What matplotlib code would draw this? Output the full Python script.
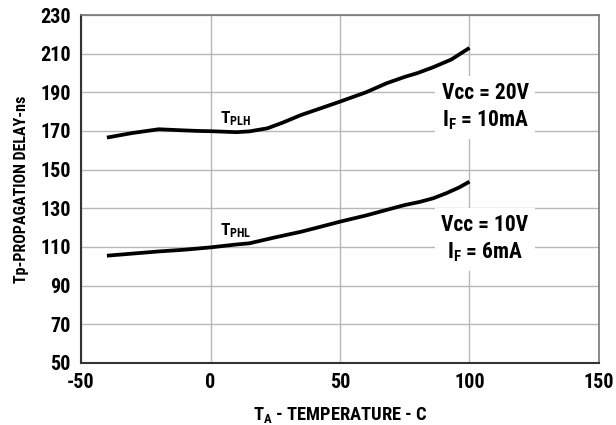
import matplotlib
matplotlib.use("Agg")
import matplotlib.pyplot as plt

# --- data ---
temp_plh = [-40, -30, -20, -10, -4, 0, 10, 15, 22, 28, 35, 42, 50, 60, 68, 75, 80, 86, 93, 100]
tplh     = [166.6, 169.0, 170.9, 170.3, 170.0, 169.9, 169.4, 169.8, 171.4, 174.4, 178.3, 181.5, 185.2, 190.0, 194.7, 198.0, 200.0, 203.0, 207.0, 213.0]

temp_phl = [-40, -30, -20, -10, 0, 10, 15, 25, 35, 42, 50, 60, 68, 75, 81, 86, 91, 96, 100]
tphl     = [105.5, 106.6, 107.7, 108.6, 109.8, 111.3, 111.9, 115.0, 117.9, 120.3, 123.1, 126.3, 129.2, 131.7, 133.4, 135.2, 137.8, 140.8, 143.8]

xticks = [-50, 0, 50, 100, 150]
yticks = list(range(50, 231, 20))

# --- font: condensed bold, close to the datasheet look ---
fam = "Roboto Condensed"
plt.rcParams["font.family"] = [fam, "DejaVu Sans"]
plt.rcParams["font.weight"] = "bold"
plt.rcParams["axes.unicode_minus"] = False
plt.rcParams["mathtext.fontset"] = "custom"
plt.rcParams["mathtext.rm"] = fam + ":bold"
plt.rcParams["mathtext.default"] = "rm"

fig = plt.figure(figsize=(6.16, 4.25), dpi=100)
ax = fig.add_axes([0.1315, 0.1459, 0.8409, 0.8188])

ax.plot(temp_plh, tplh, color="black", lw=2.7, solid_capstyle="butt", zorder=3)
ax.plot(temp_phl, tphl, color="black", lw=2.7, solid_capstyle="butt", zorder=3)

ax.set_xlim(-50, 150)
ax.set_ylim(50, 230)
ax.set_xticks(xticks)
ax.set_yticks(yticks)
ax.tick_params(length=0, labelsize=14.5, pad=7.5)
for lab in ax.get_xticklabels() + ax.get_yticklabels():
    lab.set_fontweight("bold")
ax.grid(True, color="#b8b8b8", lw=1)
ax.set_axisbelow(True)

for s in ["left", "bottom"]:
    ax.spines[s].set_color("#333333")
    ax.spines[s].set_linewidth(1.5)
for s in ["top", "right"]:
    ax.spines[s].set_color("#777777")
    ax.spines[s].set_linewidth(1.2)

ax.set_ylabel("Tp-PROPAGATION DELAY-ns", fontsize=11.5, fontweight="bold", labelpad=8)
ax.set_xlabel(r"T$_{A}$ - TEMPERATURE - C", fontsize=13.3, fontweight="bold", labelpad=9)

ax.text(3.5, 174, r"T$_{PLH}$", fontsize=12.5, fontweight="bold", zorder=4)
ax.text(3.5, 116, r"T$_{PHL}$", fontsize=12.5, fontweight="bold", zorder=4)

box = dict(facecolor="white", edgecolor="none", pad=5)
ax.text(106, 182.5, "Vcc = 20V\n" + r"I$_{F}$ = 10mA", fontsize=15.5, fontweight="bold",
        ha="center", va="center", linespacing=1.22, bbox=box, zorder=4)
ax.text(106, 114, "Vcc = 10V\n" + r"I$_{F}$ = 6mA", fontsize=15.5, fontweight="bold",
        ha="center", va="center", linespacing=1.22, bbox=box, zorder=4)

fig.savefig("out.png", dpi=100)
